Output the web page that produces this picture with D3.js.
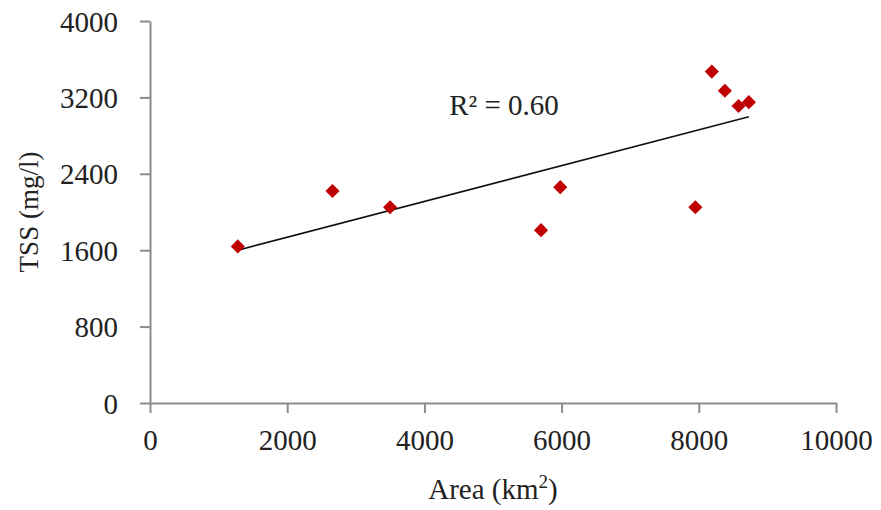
<!DOCTYPE html>
<html>
<head>
<meta charset="utf-8">
<script src="https://cdn.jsdelivr.net/npm/d3@7"></script>
<style>
  body { margin: 0; background: #fff; }
  svg text { font-family: "Liberation Serif", "Times New Roman", serif; fill: #222; }
</style>
</head>
<body>
<svg id="chart" width="881" height="510"></svg>
<script>
// area (km2) vs TSS (mg/l)
const areaKm2 = [1280, 2660, 3500, 5700, 5980, 7950, 8190, 8380, 8580, 8730];
const tssMgL = [1640, 2220, 2050, 1810, 2260, 2050, 3470, 3270, 3110, 3150];
const xTicks = [0, 2000, 4000, 6000, 8000, 10000];
const yTicks = [0, 800, 1600, 2400, 3200, 4000];
const r2Label = 'R\u00b2 = 0.60';

const svg = d3.select('#chart');
const plotL = 150, plotR = 836, plotT = 21, plotB = 403;

const x = d3.scaleLinear().domain([0, 10000]).range([plotL, plotR]);
const y = d3.scaleLinear().domain([0, 4000]).range([plotB, plotT]);

const axisColor = '#8c8c8c';
const fmt = d3.format('d');

const xAxis = svg.append('g')
  .attr('transform', `translate(0,${plotB})`)
  .call(d3.axisBottom(x).tickValues(xTicks).tickFormat(fmt)
    .tickSize(10).tickPadding(16).tickSizeOuter(0));
const yAxis = svg.append('g')
  .attr('transform', `translate(${plotL},0)`)
  .call(d3.axisLeft(y).tickValues(yTicks).tickFormat(fmt)
    .tickSize(10).tickPadding(22).tickSizeOuter(0));

[xAxis, yAxis].forEach(g => {
  g.select('.domain').attr('stroke', axisColor).attr('stroke-width', 2);
  g.selectAll('.tick line').attr('stroke', axisColor).attr('stroke-width', 2);
  g.selectAll('.tick text')
    .attr('font-size', 29)
    .attr('font-family', '"Liberation Serif", serif')
    .attr('fill', '#222');
});
yAxis.selectAll('.tick text').attr('dy', '0.35em');

// least squares trend line
const n = areaKm2.length;
const mx = d3.mean(areaKm2), my = d3.mean(tssMgL);
let sxy = 0, sxx = 0;
for (let i = 0; i < n; i++) {
  sxy += (areaKm2[i] - mx) * (tssMgL[i] - my);
  sxx += (areaKm2[i] - mx) ** 2;
}
const slope = sxy / sxx;
const icept = my - slope * mx;
const xs = d3.extent(areaKm2);

svg.append('line')
  .attr('x1', x(xs[0])).attr('y1', y(icept + slope * xs[0]))
  .attr('x2', x(xs[1])).attr('y2', y(icept + slope * xs[1]))
  .attr('stroke', '#111')
  .attr('stroke-width', 1.6);

// diamonds
const diamond = d3.symbol().type(d3.symbolSquare).size(100);
svg.append('g').selectAll('path')
  .data(areaKm2.map((a, i) => [a, tssMgL[i]]))
  .enter()
  .append('path')
  .attr('d', diamond)
  .attr('transform', d => `translate(${x(d[0])},${y(d[1])}) rotate(45)`)
  .attr('fill', '#c00000');

svg.append('text')
  .attr('x', 504).attr('y', 115)
  .attr('text-anchor', 'middle')
  .attr('font-size', 29)
  .text(r2Label);

// axis titles
const xt = svg.append('text')
  .attr('x', (plotL + plotR) / 2).attr('y', 499)
  .attr('text-anchor', 'middle')
  .attr('font-size', 29);
xt.append('tspan').text('Area (km');
xt.append('tspan').attr('font-size', 19).attr('dy', -11).text('2');
xt.append('tspan').attr('dy', 11).text(')');

svg.append('text')
  .attr('transform', `translate(38,${(plotT + plotB) / 2}) rotate(-90)`)
  .attr('text-anchor', 'middle')
  .attr('font-size', 27)
  .text('TSS (mg/l)');
</script>
</body>
</html>
